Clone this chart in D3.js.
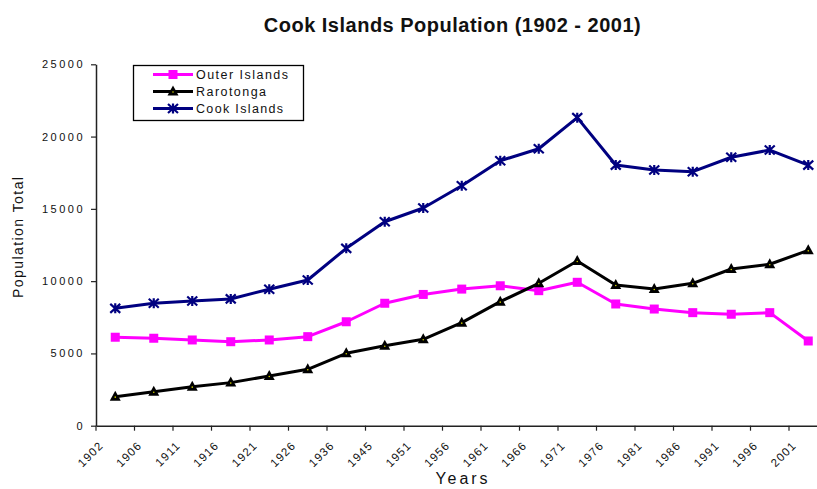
<!DOCTYPE html>
<html><head><meta charset="utf-8">
<script src="https://cdn.jsdelivr.net/npm/d3@7"></script>
<style>body{margin:0;background:#fff}svg{display:block}text{font-family:"Liberation Sans",Arial,sans-serif}</style>
</head><body><svg id="c" width="817" height="489"></svg>
<script>
const years = ["1902","1906","1911","1916","1921","1926","1936","1945","1951","1956","1961","1966","1971","1976","1981","1986","1991","1996","2001"];
const outerIslands = [6120,6050,5930,5810,5930,6160,7190,8470,9080,9450,9680,9340,9920,8420,8070,7820,7710,7820,5860];
const rarotonga = [2010,2350,2700,2980,3440,3900,5010,5530,5980,7130,8580,9850,11390,9730,9460,9850,10840,11170,12130];
const cookIslands = [8120,8470,8630,8770,9440,10080,12270,14110,15060,16600,18330,19160,21310,18030,17690,17570,18570,19070,18030];
const yTicks = [0,5000,10000,15000,20000,25000];

const svg = d3.select("#c");
const x = d3.scaleBand().domain(years).range([96, 827.5]);
const y = d3.scaleLinear().domain([0, 25000]).range([425.7, 64.3]);

svg.append("text").attr("x", 452.5).attr("y", 31.5).attr("text-anchor", "middle")
  .attr("font-size", 20).attr("font-weight", "bold").attr("fill", "#111").attr("letter-spacing", 0.5)
  .text("Cook Islands Population (1902 - 2001)");

// y axis
const ya = svg.append("g").attr("transform", "translate(96,0)").call(d3.axisLeft(y).tickValues(yTicks).tickSize(5).tickSizeOuter(0).tickFormat(d3.format("d")));
ya.select(".domain").attr("stroke", "#222").attr("stroke-width", 1.5);
ya.selectAll(".tick line").attr("stroke", "#222").attr("stroke-width", 1.2);
ya.selectAll(".tick text").attr("font-size", 11).attr("x", -11).attr("letter-spacing", 2.5).attr("fill", "#111");

// x axis
const xa = svg.append("g").attr("transform", "translate(0,425.7)").call(d3.axisBottom(x).tickSize(0).tickSizeOuter(0));
xa.select(".domain").attr("stroke", "#222").attr("stroke-width", 1.5);
xa.selectAll(".tick text").remove();
xa.selectAll(".tick line").remove();
xa.selectAll(".btick").data(years).enter().append("line")
  .attr("x1", d => x(d)).attr("x2", d => x(d)).attr("y1", 0).attr("y2", 5)
  .attr("stroke", "#222").attr("stroke-width", 1.2);
svg.append("g").selectAll("text").data(years).enter().append("text")
  .attr("transform", d => `translate(${x(d) + x.bandwidth()/2 - 11},${446}) rotate(-45)`)
  .attr("text-anchor", "end").attr("font-size", 11.5).attr("letter-spacing", 1.3).attr("fill", "#111").text(d => d);

svg.append("text").attr("transform", "translate(23,237.5) rotate(-90)").attr("text-anchor", "middle")
  .attr("font-size", 14).attr("textLength", 121).attr("lengthAdjust", "spacing").attr("fill", "#111").text("Population Total");
svg.append("text").attr("x", 461.5).attr("y", 484).attr("text-anchor", "middle").attr("font-size", 16)
  .attr("textLength", 52).attr("lengthAdjust", "spacing").attr("fill", "#111").text("Years");

const cx = d => x(d) + x.bandwidth()/2;
const line = d3.line().x((d, i) => cx(years[i])).y(d => y(d));

const series = [
  {name: "Outer Islands", vals: outerIslands, color: "#ff00ff", marker: "square", len: 92},
  {name: "Rarotonga", vals: rarotonga, color: "#000000", marker: "triangle", len: 70},
  {name: "Cook Islands", vals: cookIslands, color: "#000080", marker: "star", len: 87}
];

function drawMarker(g, type, color, px, py) {
  if (type === "square") {
    g.append("rect").attr("x", px - 4.5).attr("y", py - 4.5).attr("width", 9).attr("height", 9).attr("fill", color);
  } else if (type === "triangle") {
    g.append("path").attr("d", `M${px},${py-6}L${px+5.5},${py+4}L${px-5.5},${py+4}Z`).attr("fill", color);
    g.append("circle").attr("cx", px).attr("cy", py+0.5).attr("r", 0.8).attr("fill", "#cccc00");
  } else {
    g.append("path").attr("d", `M${px-5},${py-4.5}L${px+5},${py+4.5}M${px-5},${py+4.5}L${px+5},${py-4.5}M${px},${py-5}L${px},${py+5}`)
      .attr("stroke", color).attr("stroke-width", 2.2).attr("fill", "none");
  }
}

series.forEach(s => {
  svg.append("path").datum(s.vals).attr("d", line).attr("fill", "none").attr("stroke", s.color).attr("stroke-width", 3).attr("stroke-linejoin", "round");
  const g = svg.append("g");
  s.vals.forEach((v, i) => drawMarker(g, s.marker, s.color, cx(years[i]), y(v)));
});

// legend
const lg = svg.append("g");
lg.append("rect").attr("x", 133.5).attr("y", 65.5).attr("width", 170).attr("height", 55).attr("fill", "#fff").attr("stroke", "#000").attr("stroke-width", 1.3);
series.forEach((s, i) => {
  const ly = 74.5 + i * 17;
  lg.append("line").attr("x1", 153).attr("x2", 193).attr("y1", ly).attr("y2", ly).attr("stroke", s.color).attr("stroke-width", 3);
  drawMarker(lg, s.marker, s.color, 173, ly);
  lg.append("text").attr("x", 196).attr("y", ly).attr("dy", "0.36em").attr("font-size", 12.5)
    .attr("textLength", s.len).attr("lengthAdjust", "spacing").attr("fill", "#111").text(s.name);
});
</script></body></html>
